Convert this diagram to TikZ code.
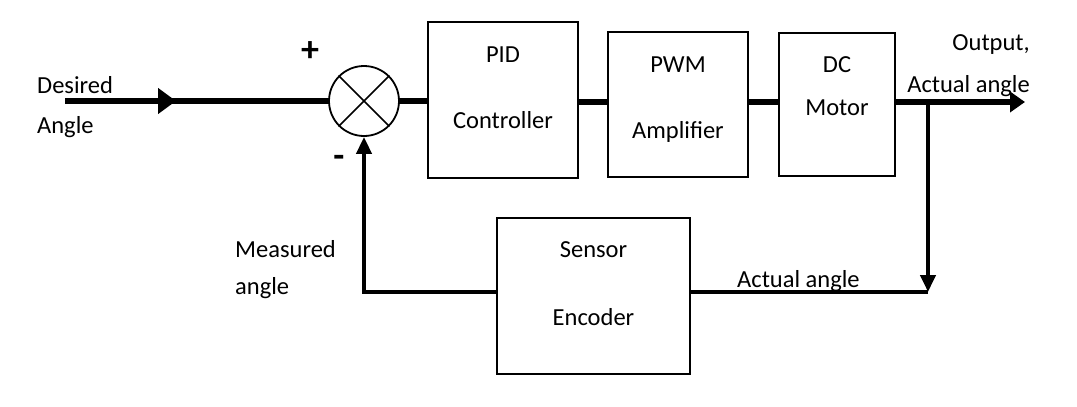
\documentclass[tikz,border=0pt]{standalone}
\usepackage{fontspec}
\setmainfont{Carlito}
\usetikzlibrary{arrows.meta}
\begin{document}
\begin{tikzpicture}[x=1pt,y=-1pt,
  blk/.style={draw, line width=1.8pt, inner sep=0pt},
  lbl/.style={inner sep=0pt, font=\fontsize{24.5}{28}\selectfont},
  sig/.style={line width=6pt},
  fb/.style={line width=4pt},
  fbthin/.style={line width=3.2pt},
  sgn/.style={inner sep=0pt, font=\fontsize{36}{40}\selectfont\bfseries}]
\useasboundingbox (0,0) rectangle (1077,407);
% blocks
\node[draw, circle, line width=1.8pt, minimum size=70pt, inner sep=0pt] (sum) at (364,101) {};
\draw[line width=1.5pt] (sum.north west) -- (sum.south east);
\draw[line width=1.5pt] (sum.north east) -- (sum.south west);
\node[blk, minimum width=150pt, minimum height=156pt] (pid) at (503,100) {};
\node[blk, minimum width=140pt, minimum height=145pt] (pwm) at (678,104.5) {};
\node[blk, minimum width=116pt, minimum height=143pt] (dc) at (837,104.5) {};
\node[blk, minimum width=193pt, minimum height=156pt] (sensor) at (593.5,296) {};
% box texts
\node[lbl, anchor=base] (t1) at (503,62) {PID};
\node[lbl, anchor=base] (t2) at (503,128) {Controller};
\node[lbl, anchor=base] (t3) at (678,72) {PWM};
\node[lbl, anchor=base] (t4) at (678,138) {Amplifier};
\node[lbl, anchor=base] (t5) at (837,72) {DC};
\node[lbl, anchor=base] (t6) at (837,115) {Motor};
\node[lbl, anchor=base] (t7) at (593.5,257) {Sensor};
\node[lbl, anchor=base] (t8) at (593.5,325) {Encoder};
% outer labels
\node[lbl, anchor=base west] (d1) at (37,93) {Desired};
\node[lbl, anchor=base west] (d2) at (37,133) {Angle};
\node[lbl, anchor=base west] (m1) at (235,257) {Measured};
\node[lbl, anchor=base west] (m2) at (235,294) {angle};
\node[lbl, anchor=base west] (a1) at (737,287) {Actual angle};
\node[lbl, anchor=base east] (o1) at (1030,50) {Output,};
\node[lbl, anchor=base east] (o2) at (1030,92) {Actual angle};
\node[sgn] (plus) at (310,52) {+};
\node[sgn] (minus) at (339,161) {-};
% coordinates
\coordinate (in) at (65,101);
\coordinate (mid) at (176,101);
\coordinate (br) at (928,102);
\coordinate (bot) at (928,292);
\coordinate (out) at (1025,102);
% connectors
\draw[sig] (in) -- (sum.west);
\draw[sig, -{Triangle[length=18pt,width=25pt]}] (in) -- (mid);
\draw[sig] (sum.east) -- (pid.west |- sum.east);
\draw[sig] (pid.east |- br) -- (pwm.west |- br);
\draw[sig] (pwm.east |- br) -- (dc.west |- br);
\draw[sig, -{Triangle[length=15pt,width=20pt]}] (dc.east |- br) -- (out);
\draw[fb, -{Triangle[length=17pt,width=15pt]}] (br) -- (bot);
\draw[fbthin] (bot) -- (sensor.east |- bot);
\draw[fbthin] (sensor.west |- bot) -- (sum.south |- bot);
\draw[fb, -{Triangle[length=17pt,width=15pt]}] ([yshift=-1.6pt]sum.south |- bot) -- (sum.south);
\end{tikzpicture}
\end{document}
